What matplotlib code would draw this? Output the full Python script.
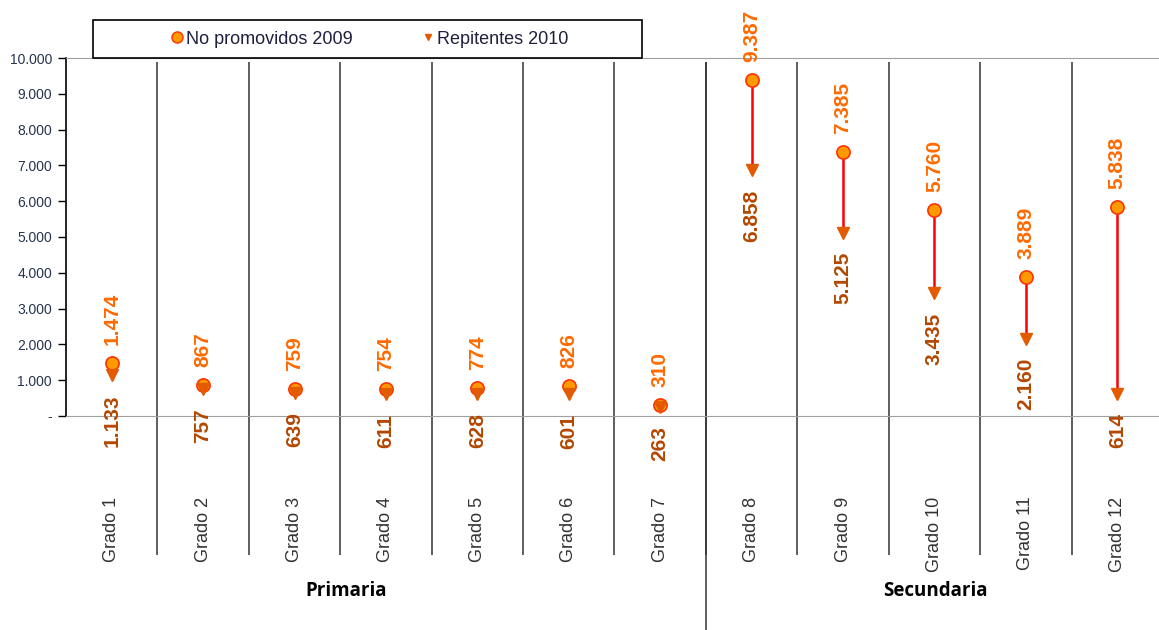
import numpy as np
import matplotlib.pyplot as plt
from matplotlib.patches import Rectangle
from matplotlib.lines import Line2D

grados = ['Grado 1', 'Grado 2', 'Grado 3', 'Grado 4', 'Grado 5', 'Grado 6', 'Grado 7',
          'Grado 8', 'Grado 9', 'Grado 10', 'Grado 11', 'Grado 12']
no_promovidos_2009 = [1474, 867, 759, 754, 774, 826, 310, 9387, 7385, 5760, 3889, 5838]
repitentes_2010 = [1133, 757, 639, 611, 628, 601, 263, 6858, 5125, 3435, 2160, 614]
yticks = [0, 1000, 2000, 3000, 4000, 5000, 6000, 7000, 8000, 9000, 10000]


def fmt(v):
    return f"{v:,}".replace(',', '.')


plt.rcParams['font.family'] = ['Liberation Sans', 'DejaVu Sans']

fig = plt.figure(figsize=(11.59, 6.30), dpi=100)
W, H = 1159, 630
# area del grafico en pixeles: izquierda 66, arriba 58, cero en 416
ax = fig.add_axes([66 / W, (H - 416) / H, 1097 / W, 358 / H])

x = np.arange(len(grados))
ax.set_xlim(-0.5, len(grados) - 0.5)
ax.set_ylim(0, 10000)

# lineas rojas entre los dos valores
ax.vlines(x, repitentes_2010, no_promovidos_2009, color='#FF0000', lw=1.8, zorder=2)

ax.plot(x, no_promovidos_2009, 'o', mfc='#FF9900', mec='#FF3300', mew=1.2, ms=9.5,
        zorder=4, linestyle='none')
ax.plot(x, repitentes_2010, 'v', color='#E35B00', ms=9, zorder=5, linestyle='none')

for xi, a, b in zip(x, no_promovidos_2009, repitentes_2010):
    ax.annotate(fmt(a), (xi, a), xytext=(0, 13), textcoords='offset points',
                rotation=90, ha='center', va='bottom', color='#FF6A00',
                fontsize=15, fontweight='bold', annotation_clip=False)
    ax.annotate(fmt(b), (xi, b), xytext=(0, -14), textcoords='offset points',
                rotation=90, ha='center', va='top', color='#B34700',
                fontsize=15, fontweight='bold', annotation_clip=False)

# ejes
ax.set_yticks(yticks)
ax.set_yticklabels(['-' if v == 0 else fmt(v) for v in yticks], color='#26344F', fontsize=10)
ax.tick_params(axis='y', direction='out', length=6, width=1, color='black', pad=4)
ax.set_xticks(x)
ax.set_xticklabels(grados, rotation=90, fontsize=13, color='#333333')
ax.tick_params(axis='x', length=0, pad=58)
ax.spines['right'].set_visible(False)
ax.spines['left'].set_color('black')
ax.spines['left'].set_linewidth(1.2)
ax.spines['top'].set_color('#A0A0A0')
ax.spines['bottom'].set_color('#A0A0A0')

# separadores
sep = x[:-1] + 0.5
ax.vlines(sep, -0.388, 0.989, transform=ax.get_xaxis_transform(), color='#333333',
          lw=1.1, clip_on=False, zorder=1)
ax.vlines(6.5, -0.598, 0.989, transform=ax.get_xaxis_transform(), color='#333333',
          lw=1.1, clip_on=False, zorder=1)

ax.text(2.56, -0.49, 'Primaria', transform=ax.get_xaxis_transform(), ha='center',
        va='center', fontsize=13.5, fontweight='bold', family=['Open Sans', 'DejaVu Sans'])
ax.text(9.01, -0.49, 'Secundaria', transform=ax.get_xaxis_transform(), ha='center',
        va='center', fontsize=13.5, fontweight='bold', family=['Open Sans', 'DejaVu Sans'])

# leyenda
fig.patches.append(Rectangle((93 / W, (H - 58) / H), 549 / W, 38 / H, transform=fig.transFigure,
                             fill=True, facecolor='white', edgecolor='black', lw=1.2, zorder=5))
handles = [Line2D([], [], marker='o', mfc='#FF9900', mec='#FF3300', ms=8, ls='none'),
           Line2D([], [], marker='v', color='#E35B00', ms=5, ls='none')]
leg = fig.legend(handles, ['No promovidos 2009', 'Repitentes 2010'], loc='center',
                 bbox_to_anchor=(370 / W, (H - 39) / H), ncol=2, frameon=False,
                 fontsize=13, handlelength=0.6, handletextpad=0.2, columnspacing=3.9,
                 labelcolor='#1F1F3F')
leg.set_zorder(6)

fig.savefig('out.png', dpi=100)
